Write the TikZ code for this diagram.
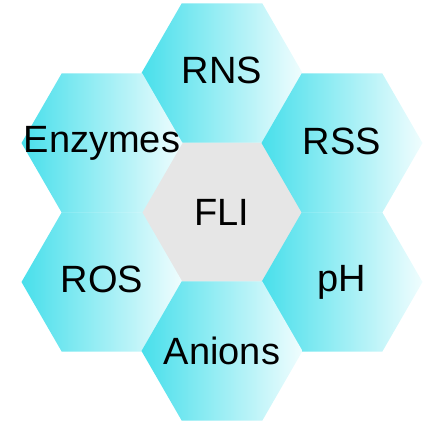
\documentclass[tikz,border=0pt]{standalone}
\usepackage{fontspec}
\setmainfont{Liberation Sans}
\usetikzlibrary{shapes.geometric}

\definecolor{hexcyan}{HTML}{48DFEB}
\definecolor{hexpale}{HTML}{F0FDFE}
\definecolor{hexgray}{HTML}{E6E6E6}

\begin{document}
\begin{tikzpicture}[
    x=1pt, y=-1pt,
    hex/.style={regular polygon, regular polygon sides=6, minimum size=161pt,
                inner sep=0pt, outer sep=0pt},
    cell/.style={hex, left color=hexcyan, right color=hexpale},
    core/.style={hex, fill=hexgray},
    lbl/.style={font=\fontsize{38}{40}\selectfont, inner sep=0pt},
  ]
  \useasboundingbox (0,0) rectangle (428,427);
  %% ---- Hexagons ----
  \node[core] (fli) at (222,212) {};
  \node[cell] (rns) at (222,73)  {};
  \node[cell] (enz) at (102,143) {};
  \node[cell] (rss) at (342,143) {};
  \node[cell] (ros) at (102,282) {};
  \node[cell] (ph)  at (342,282) {};
  \node[cell] (ani) at (222,351) {};
  %% ---- Labels ----
  \node[lbl] (tfli) at (fli) {FLI};
  \node[lbl] (trns) at ([yshift=3pt]rns) {RNS};
  \node[lbl] (tenz) at ([yshift=0pt]enz) {Enzymes};
  \node[lbl] (trss) at ([yshift=2pt]rss) {RSS};
  \node[lbl] (tros) at ([yshift=3pt]ros) {ROS};
  \node[lbl] (tph)  at ([yshift=0pt]ph)  {pH};
  \node[lbl] (tani) at ([yshift=0pt]ani) {Anions};
\end{tikzpicture}
\end{document}
